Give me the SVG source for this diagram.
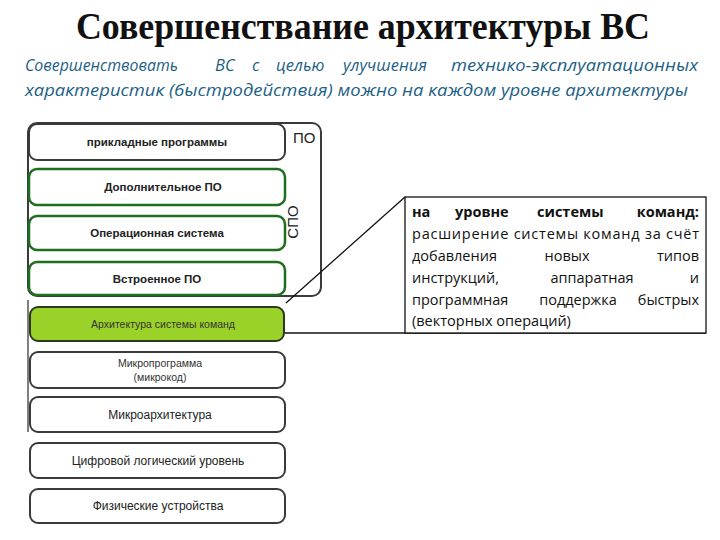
<svg xmlns="http://www.w3.org/2000/svg" width="720" height="540" viewBox="0 0 720 540">
<style>
.title{font-family:"Liberation Serif",serif;font-weight:bold;font-size:38px;fill:#111}
.sub{font-family:"Open Sans","Liberation Sans",sans-serif;font-style:italic;font-size:16.5px;fill:#1d5f86}
.box{fill:#fff;stroke:#3a3a3a;stroke-width:2}
.gbox{fill:#fff;stroke:#1f6e1f;stroke-width:2.5}
.abox{fill:#9bd22a;stroke:#2e3a1e;stroke-width:2}
.lbl{font-family:"Liberation Sans",Arial,sans-serif;font-size:12px;fill:#222;text-anchor:middle}
.lblb{font-family:"Liberation Sans",Arial,sans-serif;font-size:11.5px;font-weight:bold;fill:#222;text-anchor:middle}
.lbls{font-family:"Liberation Sans",Arial,sans-serif;font-size:10.5px;fill:#333;text-anchor:middle}
.side{font-family:"Liberation Sans",Arial,sans-serif;font-size:15px;fill:#222}
.ct{font-family:"Open Sans","Liberation Sans",sans-serif;font-size:14.5px;fill:#111}
.ctb{font-family:"Open Sans","Liberation Sans",sans-serif;font-size:14.5px;font-weight:bold;fill:#111}
.ln{stroke:#111;stroke-width:1.3;fill:none}
</style>
<rect width="720" height="540" fill="#fff"/>
<text class="title" x="76" y="39" textLength="574" lengthAdjust="spacingAndGlyphs">Совершенствание архитектуры ВС</text>
<g class="sub">
<text x="25" y="71" textLength="153" lengthAdjust="spacingAndGlyphs">Совершенствовать</text>
<text x="215" y="71">ВС</text>
<text x="252" y="71">с</text>
<text x="276" y="71">целью</text>
<text x="343" y="71">улучшения</text>
<text x="451" y="71" textLength="247" lengthAdjust="spacingAndGlyphs">технико-эксплуатационных</text>
<text x="25" y="96" textLength="663" lengthAdjust="spacingAndGlyphs">характеристик (быстродействия) можно на каждом уровне архитектуры</text>
</g>

<g id="po-frame">
<rect x="28" y="123" width="293" height="173" rx="9" fill="none" stroke="#3a3a3a" stroke-width="2"/>
<text class="side" x="293" y="143">ПО</text>
<text class="side" x="0" y="0" text-anchor="middle" transform="translate(298,222) rotate(-90)">СПО</text>
</g>

<g id="connectors">
<line x1="28" y1="300" x2="28" y2="432" stroke="#555" stroke-width="1.5"/>
<line class="ln" x1="405" y1="197" x2="286" y2="303"/>
<line class="ln" x1="285" y1="333" x2="706" y2="333"/>
</g>

<g id="app"><rect class="box" x="29" y="124" width="256" height="36" rx="8"/><text class="lblb" x="157" y="146">прикладные программы</text></g>
<g id="dop"><rect class="gbox" x="29" y="169" width="256" height="36" rx="8"/><text class="lblb" x="163" y="191">Дополнительное ПО</text></g>
<g id="os"><rect class="gbox" x="29" y="216" width="256" height="34" rx="8"/><text class="lblb" x="157" y="237">Операционная система</text></g>
<g id="emb"><rect class="gbox" x="29" y="262" width="256" height="33" rx="8"/><text class="lblb" x="157" y="283">Встроенное ПО</text></g>
<g id="isa"><rect class="abox" x="30" y="307" width="254" height="34" rx="8"/><text class="lbls" x="163" y="328">Архитектура системы команд</text></g>
<g id="micro"><rect class="box" x="30" y="352" width="255" height="36" rx="8"/><text class="lbls" x="160" y="367">Микропрограмма</text><text class="lbls" x="160" y="381">(микрокод)</text></g>
<g id="march"><rect class="box" x="30" y="397" width="255" height="35" rx="8"/><text class="lbl" x="160" y="419">Микроархитектура</text></g>
<g id="digital"><rect class="box" x="30" y="443" width="255" height="35" rx="8"/><text class="lbl" x="158" y="465">Цифровой логический уровень</text></g>
<g id="phys"><rect class="box" x="30" y="489" width="255" height="34" rx="8"/><text class="lbl" x="158" y="510">Физические устройства</text></g>

<g id="callout">
<rect x="405" y="197" width="301" height="136" fill="#fff" stroke="#111" stroke-width="1.3"/>
<text class="ctb" x="412" y="217">на</text>
<text class="ctb" x="455" y="217">уровне</text>
<text class="ctb" x="537" y="217">системы</text>
<text class="ctb" x="699" y="217" text-anchor="end">команд:</text>
<text class="ct" x="412" y="239" textLength="287" lengthAdjust="spacing">расширение системы команд за счёт</text>
<text class="ct" x="412" y="261">добавления</text>
<text class="ct" x="567" y="261" text-anchor="middle">новых</text>
<text class="ct" x="699" y="261" text-anchor="end">типов</text>
<text class="ct" x="412" y="283">инструкций,</text>
<text class="ct" x="592" y="283" text-anchor="middle">аппаратная</text>
<text class="ct" x="699" y="283" text-anchor="end">и</text>
<text class="ct" x="412" y="305">программная</text>
<text class="ct" x="578" y="305" text-anchor="middle">поддержка</text>
<text class="ct" x="699" y="305" text-anchor="end">быстрых</text>
<text class="ct" x="412" y="326">(векторных операций)</text>
</g>
</svg>
